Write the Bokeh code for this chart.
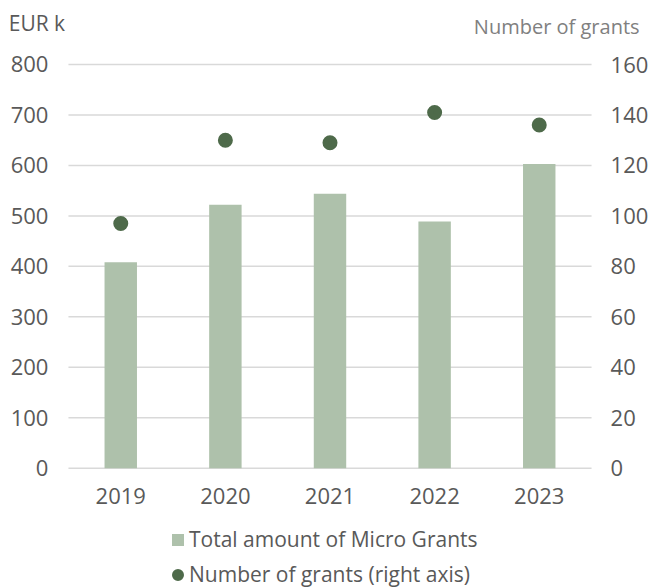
from bokeh.plotting import figure
from bokeh.models import (Range1d, LinearAxis, Legend, LegendItem, Label, FactorRange)
from bokeh.embed import file_html
from bokeh.resources import INLINE

years = ["2019", "2020", "2021", "2022", "2023"]
amounts = [408, 522, 544, 489, 603]      # EUR k, left axis
grants = [97, 130, 129, 141, 136]        # number of grants, right axis
left_ticks = [0, 100, 200, 300, 400, 500, 600, 700, 800]
right_ticks = [0, 20, 40, 60, 80, 100, 120, 140, 160]

FONT = "Open Sans"
TXT = "#595959"
BAR = "#aec1ab"
DOT = "#4e6a4a"

# the frame covers the whole canvas so that titles and legend can sit inside it
PAD = 0.573                               # category widths of empty room left/right
x_range = FactorRange(*years, range_padding=PAD, range_padding_units="absolute")
y_left = Range1d(-238.4, 926.8)           # 0..800 spans the plot area
y_right = Range1d(-47.68, 185.37)         # 0..160 spans the plot area

p = figure(width=651, height=588, x_range=x_range, y_range=y_left,
           output_backend="svg", toolbar_location=None,
           min_border_left=8, min_border_right=0, min_border_top=0,
           min_border_bottom=0, x_axis_location="below", y_axis_location="left")
p.outline_line_color = None
p.xgrid.grid_line_color = None
p.ygrid.grid_line_color = None
p.extra_y_ranges = {"right": y_right}

n = len(years)
# horizontal gridlines at the left-axis ticks, across the plot area only
p.segment(x0=[0] * len(left_ticks), x1=[n] * len(left_ticks),
          y0=left_ticks, y1=left_ticks, line_color="#d9d9d9", line_width=1.5)

bars = p.vbar(x=years, top=amounts, width=0.31, fill_color=BAR, line_color=None)
dots = p.scatter(x=years, y=grants, y_range_name="right", marker="circle",
                 size=9, fill_color=DOT, line_color=DOT, line_width=6)


def style(ax, standoff):
    ax.axis_line_color = None
    ax.major_tick_line_color = None
    ax.minor_tick_line_color = None
    ax.major_tick_out = 0
    ax.major_tick_in = 0
    ax.minor_tick_out = 0
    ax.minor_tick_in = 0
    ax.major_label_standoff = standoff
    ax.major_label_text_font = FONT
    ax.major_label_text_font_size = "22px"
    ax.major_label_text_color = TXT


# left axis
ya = p.yaxis[0]
ya.fixed_location = 0
ya.ticker = left_ticks
style(ya, 20)

# right axis
raxis = LinearAxis(y_range_name="right", ticker=right_ticks, fixed_location=n)
style(raxis, 19)
p.add_layout(raxis, "right")

# category axis
xa = p.xaxis[0]
xa.fixed_location = 0
style(xa, 20)

# axis titles
p.add_layout(Label(x=-0.571, y=883, text="EUR k", text_align="left",
                   text_baseline="alphabetic", text_font=FONT,
                   text_font_size="21px", text_color=TXT))
p.add_layout(Label(x=5.459, y=874.5, text="Number of grants",
                   text_align="right", text_baseline="alphabetic", text_font=FONT,
                   text_font_size="20px", text_color="#808080"))

legend = Legend(items=[LegendItem(label="Total amount of Micro Grants", renderers=[bars]),
                       LegendItem(label="Number of grants (right axis)", renderers=[dots])],
                location=(162, 0), orientation="vertical",
                glyph_width=15, glyph_height=15, label_standoff=4,
                spacing=7, padding=0, margin=0,
                border_line_color=None, background_fill_alpha=0,
                label_text_font=FONT, label_text_font_size="21px",
                label_text_color=TXT)
p.add_layout(legend, "center")

open("out.html", "w").write(file_html(p, INLINE))
